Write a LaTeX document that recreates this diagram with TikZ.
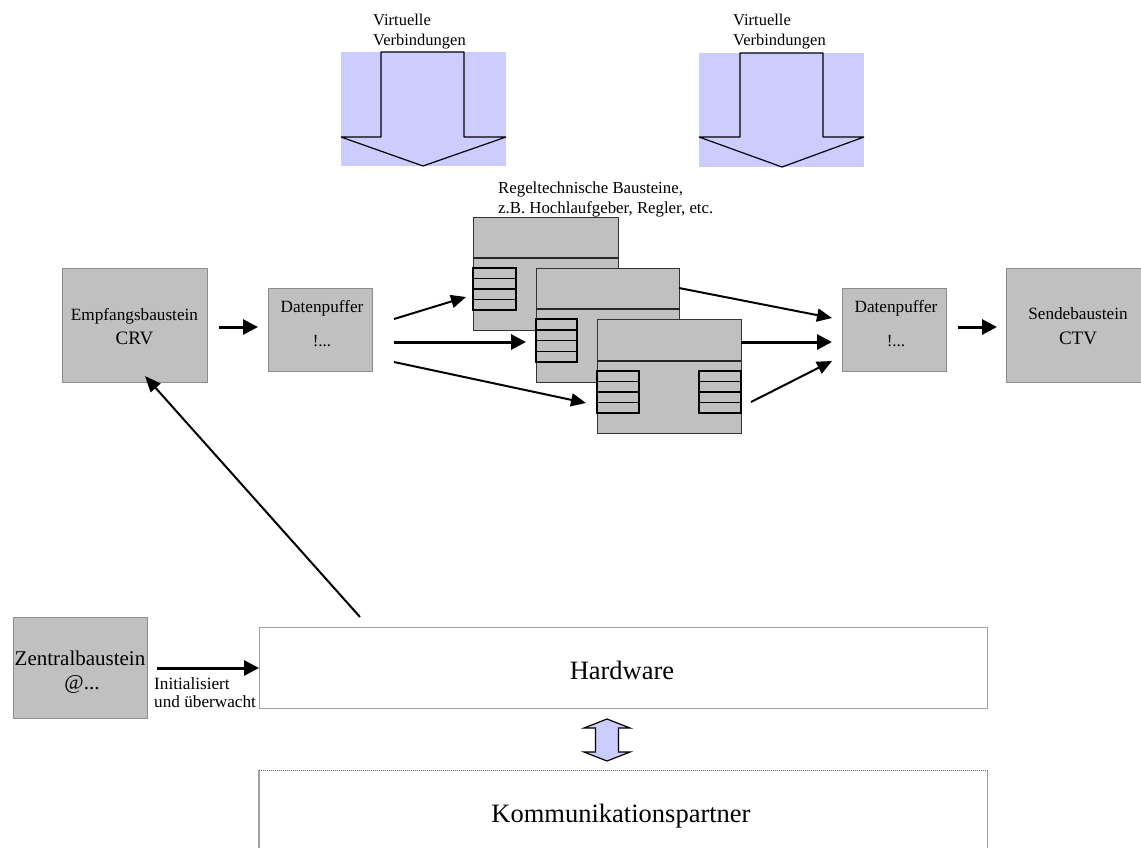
\documentclass[tikz,border=0pt]{standalone}
\usepackage{fontspec}
\setmainfont{Liberation Serif}
\usetikzlibrary{arrows.meta}
\definecolor{boxfill}{HTML}{C0C0C0}
\definecolor{boxline}{HTML}{8C8C8C}
\definecolor{hwline}{HTML}{A0A0A0}
\definecolor{vblue}{HTML}{CCCCFF}
\newcommand\fsz[1]{\fontsize{#1}{#1}\selectfont}
\tikzset{
  graybox/.style={draw=boxline, fill=boxfill, line width=1.2pt, inner sep=0, anchor=north west},
  blockbox/.style={draw=black!80, fill=boxfill, line width=1.2pt, inner sep=0, anchor=north west},
  hwbox/.style={draw=hwline, line width=1.2pt, inner sep=0, anchor=north west},
  txt/.style={inner sep=0, anchor=base},
  ltxt/.style={inner sep=0, anchor=base west},
  barline/.style={draw=black, fill=boxfill, line width=1.5pt},
  divline/.style={draw=black!85, line width=1.3pt},
  thickarr/.style={line width=3pt, -{Triangle[length=15pt,width=15pt]}},
  thinarr/.style={line width=2pt, -{Triangle[length=15pt,width=13pt]}},
  varrow/.style={draw=black, fill=vblue, line width=1.2pt, line join=miter},
}
\newcommand\bars[4]{%
  \draw[barline] (#1,#2) rectangle (#3,#4);
  \foreach \k in {1,2,3} {\draw[line width=1.5pt] (#1,{#2+\k*(#4-#2)/4}) -- (#3,{#2+\k*(#4-#2)/4});}
}
\begin{document}
\begin{tikzpicture}[x=1pt,y=-1pt]
\useasboundingbox (0,0) rectangle (1141,847);

% ---------- virtual connection arrows ----------
\fill[vblue] (341,52) rectangle (506,166);
\draw[black, line width=1.2pt, line join=bevel] (381,52) -- (464,52) -- (464,137) -- (506,137) -- (423,166) -- (341,137) -- (381,137) -- cycle;
\node[ltxt, font=\fsz{16.5}] (v1a) at (373,25) {Virtuelle};
\node[ltxt, font=\fsz{16.5}] (v1b) at (373,45) {Verbindungen};

\fill[vblue] (699,53) rectangle (864,167);
\draw[black, line width=1.2pt, line join=bevel] (740,53) -- (823,53) -- (823,137) -- (864,137) -- (782,167) -- (699,137) -- (740,137) -- cycle;
\node[ltxt, font=\fsz{16.5}] (v2a) at (733,25) {Virtuelle};
\node[ltxt, font=\fsz{16.5}] (v2b) at (733,45) {Verbindungen};

% ---------- label of control blocks ----------
\node[ltxt, font=\fsz{16.8}] (rg1) at (498,193) {Regeltechnische Bausteine,};
\node[ltxt, font=\fsz{16.8}] (rg2) at (498,213) {z.B. Hochlaufgeber, Regler, etc.};

% ---------- left / right gray boxes ----------
\node[graybox, minimum width=145pt, minimum height=114pt] (crv) at (62,268) {};
\node[txt, font=\fsz{17.2}] (crvt1) at (134.5,320) {Empfangsbaustein};
\node[txt, font=\fsz{19}] (crvt2) at (134.5,344) {CRV};

\node[graybox, minimum width=104pt, minimum height=83pt] (dp1) at (268,288) {};
\node[txt, font=\fsz{17.2}] (dp1t1) at (322,312) {Datenpuffer};
\node[txt, font=\fsz{17}] (dp1t2) at (322,346) {!...};

\node[graybox, minimum width=104pt, minimum height=83pt] (dp2) at (842,288) {};
\node[txt, font=\fsz{17.2}] (dp2t1) at (896,312) {Datenpuffer};
\node[txt, font=\fsz{17}] (dp2t2) at (896,346) {!...};

\node[graybox, minimum width=136pt, minimum height=114pt] (ctv) at (1006,268) {};
\node[txt, font=\fsz{17.2}] (ctvt1) at (1078,319) {Sendebaustein};
\node[txt, font=\fsz{19}] (ctvt2) at (1078,344) {CTV};

% ---------- control blocks ----------
\node[blockbox, minimum width=145pt, minimum height=113pt] (blka) at (473,217) {};
\draw[divline] (473,258) -- (618,258);
\bars{473}{268}{516}{310}

\node[blockbox, minimum width=143pt, minimum height=114pt] (blkb) at (536,268) {};
\draw[divline] (536,309) -- (679,309);
\bars{536}{319}{577}{362}

\node[blockbox, minimum width=144pt, minimum height=114pt] (blkc) at (597,319) {};
\draw[divline] (597,361) -- (741,361);
\bars{597}{371}{639}{413}
\bars{699}{371}{741}{413}

% ---------- arrows in the top row ----------
\draw[thickarr, shorten <=11pt, shorten >=10pt] (crv.east |- 0,327) -- (dp1.west |- 0,327);
\draw[thickarr, shorten <=11pt, shorten >=9pt] (dp2.east |- 0,327) -- (ctv.west |- 0,327);

\coordinate (a1s) at (394,319); \coordinate (a1e) at (466,297);
\coordinate (a2s) at (394,342); \coordinate (a2e) at (526,342);
\coordinate (a3s) at (394,362); \coordinate (a3e) at (586,403);
\draw[thinarr] (a1s) -- (a1e);
\draw[thickarr] (a2s) -- (a2e);
\draw[thinarr] (a3s) -- (a3e);

\coordinate (b1s) at (679,288); \coordinate (b1e) at (832,318);
\coordinate (b2s) at (741,342); \coordinate (b2e) at (832,342);
\coordinate (b3s) at (751,402); \coordinate (b3e) at (832,361);
\draw[thinarr] (b1s) -- (b1e);
\draw[thickarr] (b2s) -- (b2e);
\draw[thinarr] (b3s) -- (b3e);

% ---------- bottom part ----------
\node[graybox, minimum width=134pt, minimum height=101pt] (zb) at (13,617) {};
\node[txt, font=\fsz{21}] (zbt1) at (80,665) {Zentralbaustein};
\node[txt, font=\fsz{21}] (zbt2) at (82,689) {@...};

\node[hwbox, minimum width=728pt, minimum height=81pt] (hw) at (259,627) {};
\node[txt, font=\fsz{26.5}] (hwt) at (622,679) {Hardware};

\draw[thickarr, shorten <=9pt] (zb.east |- 0,668) -- (hw.west |- 0,668);
\node[ltxt, font=\fsz{17.2}] (in1) at (154,689) {Initialisiert};
\node[ltxt, font=\fsz{17.2}] (in2) at (154,707) {und überwacht};

\coordinate (hwup) at (360,617);
\coordinate (crvlow) at (145,376);
\draw[line width=2pt, -{Triangle[length=16pt,width=13pt]}] (hwup) -- (crvlow);

\node[inner sep=0, anchor=north west, minimum width=728pt, minimum height=100pt] (kp) at (259,770) {};
\draw[hwline, line width=1.2pt] (kp.south west) -- (kp.north west);
\draw[hwline, line width=1.2pt] (kp.south east) -- (kp.north east);
\draw[black!60, line width=1pt, densely dotted] (kp.north west) -- (kp.north east);
\node[txt, font=\fsz{26.5}] (kpt) at (621,822) {Kommunikationspartner};

% double arrow between hardware and partner
\draw[varrow] (607,719) -- (630,728) -- (618.5,728) -- (618.5,752) -- (630,752) -- (607,761)
  -- (584,752) -- (595.5,752) -- (595.5,728) -- (584,728) -- cycle;
\end{tikzpicture}
\end{document}
